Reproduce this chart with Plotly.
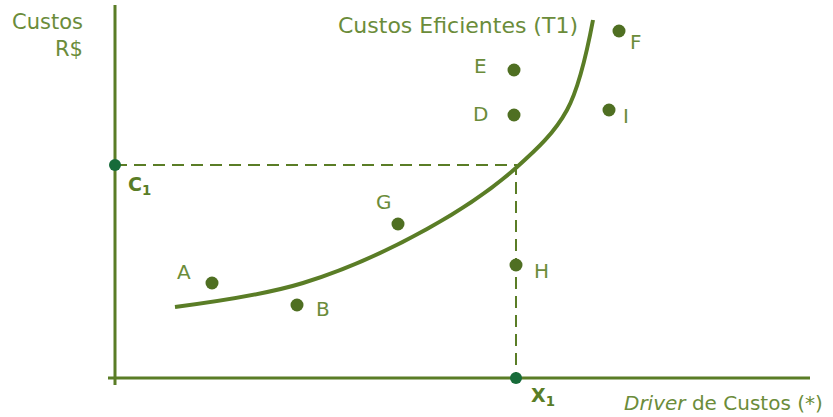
import plotly.graph_objects as go

# coordinates measured from the axis origin (pixel-like units)
point_names = ["A", "B", "G", "H", "D", "E", "I", "F"]
point_x = [97, 182, 283, 401, 399, 399, 494, 504]
point_y = [95, 73, 154, 113, 263, 308, 268, 347]

# efficient cost curve (T1)
curve_x = [60, 188, 312, 402, 452, 478]
curve_y = [71, 95, 149, 211, 268, 358]

# reference point on the curve
c1_value = 213
x1_value = 401

line_col = "#5a7d26"
dot_col = "#4f6f22"
ref_col = "#176b3a"
text_col = "#6b8c3a"
font = "DejaVu Sans"

fig = go.Figure()

# axes
fig.add_trace(go.Scatter(x=[0, 0], y=[-7, 373], mode="lines",
                         line=dict(color=line_col, width=3), hoverinfo="skip"))
fig.add_trace(go.Scatter(x=[-7, 695], y=[0, 0], mode="lines",
                         line=dict(color=line_col, width=3), hoverinfo="skip"))

# dashed guides
fig.add_trace(go.Scatter(x=[0, x1_value, x1_value], y=[c1_value, c1_value, 0], mode="lines",
                         line=dict(color=line_col, width=2, dash="12px,7px"), hoverinfo="skip"))

# curve
fig.add_trace(go.Scatter(x=curve_x, y=curve_y, mode="lines",
                         line=dict(color=line_col, width=4, shape="spline", smoothing=1.0),
                         hoverinfo="skip"))

# points
fig.add_trace(go.Scatter(x=point_x, y=point_y, mode="markers",
                         marker=dict(color=dot_col, size=13), text=point_names))

# C1 / X1 markers
fig.add_trace(go.Scatter(x=[0, x1_value], y=[c1_value, 0], mode="markers",
                         marker=dict(color=ref_col, size=12), hoverinfo="skip"))

label_offsets = {
    "A": (-28, 11), "B": (26, -4), "G": (-14, 22), "H": (25, -6),
    "D": (-34, 1), "E": (-34, 4), "I": (17, -6), "F": (17, -11),
}
for n, x, y in zip(point_names, point_x, point_y):
    dx, dy = label_offsets[n]
    fig.add_annotation(x=x, y=y, text=n, showarrow=False, xshift=dx, yshift=dy,
                       font=dict(family=font, size=20, color=text_col))

fig.add_annotation(x=0, y=c1_value, text="<b>C<sub>1</sub></b>", showarrow=False,
                   xshift=24, yshift=-20, font=dict(family=font, size=19, color=line_col))
fig.add_annotation(x=x1_value, y=0, text="<b>X<sub>1</sub></b>", showarrow=False,
                   xshift=27, yshift=-18, font=dict(family=font, size=19, color=line_col))

fig.add_annotation(x=-30, y=343, text="Custos<br>R$", showarrow=False, xanchor="right",
                   align="right", font=dict(family=font, size=21, color=text_col))
fig.add_annotation(x=343, y=353, text="Custos Eficientes (T1)", showarrow=False,
                   xanchor="center", font=dict(family=font, size=22, color=text_col))
fig.add_annotation(x=710, y=-25, text="<i>Driver</i> de Custos (*)", showarrow=False,
                   xanchor="right", font=dict(family=font, size=20, color=text_col))

fig.update_xaxes(range=[-115, 718], visible=False)
fig.update_yaxes(range=[-39, 378], visible=False)
fig.update_layout(width=833, height=417, margin=dict(l=0, r=0, t=0, b=0),
                  plot_bgcolor="white", paper_bgcolor="white", showlegend=False)

fig.write_html("out.html", config={"displayModeBar": False},
               post_script="document.body.style.margin='0';")
